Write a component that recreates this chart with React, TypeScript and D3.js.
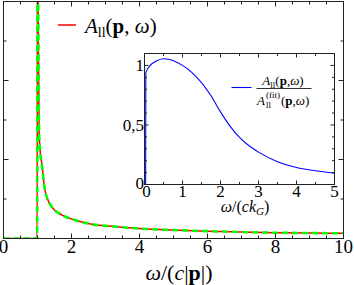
import { curveMonotoneX, line, range, scaleLinear } from 'd3';

// main panel: spectral function vs omega/(c|p|)
const mainOmega = [0, 0.5, 0.99, 1.0, 1.02, 1.046, 1.08, 1.125, 1.22, 1.42, 1.71, 2.1, 2.6, 3.0, 3.58, 4.07, 5, 6, 7, 8, 9, 10];
const spectralA = [0, 0, 0, 4.5, 3.0, 1.37, 1.1, 0.95, 0.61, 0.4, 0.3, 0.234, 0.18, 0.16, 0.14, 0.124, 0.107, 0.093, 0.082, 0.073, 0.069, 0.066];
const spectralFit = [0, 0, 0, 4.5, 3.0, 1.37, 1.1, 0.95, 0.61, 0.4, 0.3, 0.234, 0.18, 0.16, 0.14, 0.124, 0.107, 0.093, 0.082, 0.073, 0.069, 0.066];
const mainXTicks = [0, 2, 4, 6, 8, 10];
const mainYTicks = [1, 2];

// inset: ratio A / A_fit vs omega/(c k_G)
const insetOmega = [0.03, 0.035, 0.15, 0.3, 0.5, 0.75, 1.0, 1.25, 1.5, 1.75, 2.0, 2.25, 2.5, 2.75, 3.0, 3.5, 4.0, 4.5, 5];
const insetRatio = [0, 0.94, 1.0, 1.035, 1.056, 1.042, 1.0, 0.94, 0.855, 0.745, 0.61, 0.49, 0.395, 0.325, 0.272, 0.192, 0.142, 0.115, 0.095];
const insetXTicks = [0, 1, 2, 3, 4, 5];
const insetYTicks = [0, 0.5, 1];
const insetYTickLabels = ['0', '0,5', '1'];

const W = 354;
const H = 285;
const FONT = 'Liberation Serif, Times New Roman, DejaVu Serif, serif';
const AXIS = '#222';

export default function App() {
  const x = scaleLinear().domain([0, 10]).range([3.5, 343.5]);
  const y = scaleLinear().domain([0, 3]).range([238.5, 1.5]);
  const ix = scaleLinear().domain([0, 5]).range([144.5, 334.5]);
  const iy = scaleLinear().domain([0, 1.1]).range([184.5, 53.5]);

  const mainLine = line<number>()
    .x((_, i) => x(mainOmega[i]))
    .y((d) => y(d))
    .curve(curveMonotoneX);
  const insetLine = line<number>()
    .x((_, i) => ix(insetOmega[i]))
    .y((d) => iy(d))
    .curve(curveMonotoneX);

  const mainMinorX = range(0, 10.001, 0.5).filter((t) => !mainXTicks.includes(t));
  const mainMinorY = range(0, 3.001, 0.5).filter((t) => !mainYTicks.includes(t) && t > 0 && t < 3);
  const insetMinorX = range(0, 5.001, 0.5).filter((t) => !insetXTicks.includes(t));
  const insetMinorY = range(0, 1.1, 0.1).filter((t) => !insetYTicks.some((m) => Math.abs(m - t) < 1e-6));

  const [x0, x1] = x.range();
  const [y0, y1] = y.range();
  const [ix0, ix1] = ix.range();
  const [iy0, iy1] = iy.range();

  return (
    <svg
      width={W}
      height={H}
      viewBox={`0 0 ${W} ${H}`}
      style={{ position: 'absolute', left: 0, top: 0, background: '#fff' }}
    >
      <defs>
        <clipPath id="main-clip">
          <rect x={x0} y={y1} width={x1 - x0} height={y0 - y1} />
        </clipPath>
      </defs>

      {/* main curves */}
      <g clipPath="url(#main-clip)" fill="none">
        <path d={mainLine(spectralA) ?? ''} stroke="#ff0000" strokeWidth={1.5} />
        <path d={mainLine(spectralFit) ?? ''} stroke="#00ff00" strokeWidth={2.6} strokeDasharray="6 4" />
      </g>

      {/* main frame + ticks */}
      <rect x={x0} y={y1} width={x1 - x0} height={y0 - y1} fill="none" stroke={AXIS} strokeWidth={1} />
      <g stroke={AXIS} strokeWidth={1}>
        {mainXTicks.map((t) => (
          <g key={`mx${t}`}>
            <line x1={x(t)} x2={x(t)} y1={y0} y2={y0 - 5} />
            <line x1={x(t)} x2={x(t)} y1={y1} y2={y1 + 5} />
          </g>
        ))}
        {mainMinorX.map((t) => (
          <g key={`mmx${t}`}>
            <line x1={x(t)} x2={x(t)} y1={y0} y2={y0 - 3} />
            <line x1={x(t)} x2={x(t)} y1={y1} y2={y1 + 3} />
          </g>
        ))}
        {mainYTicks.map((t) => (
          <g key={`my${t}`}>
            <line x1={x0} x2={x0 + 5} y1={y(t)} y2={y(t)} />
            <line x1={x1} x2={x1 - 5} y1={y(t)} y2={y(t)} />
          </g>
        ))}
        {mainMinorY.map((t) => (
          <g key={`mmy${t}`}>
            <line x1={x0} x2={x0 + 3} y1={y(t)} y2={y(t)} />
            <line x1={x1} x2={x1 - 3} y1={y(t)} y2={y(t)} />
          </g>
        ))}
      </g>
      {mainXTicks.map((t) => (
        <text key={`mxl${t}`} x={x(t)} y={253} fontFamily={FONT} fontSize={19} textAnchor="middle">
          {t}
        </text>
      ))}
      <text x={179} y={280} fontFamily={FONT} fontSize={22} textAnchor="middle">
        <tspan fontStyle="italic">ω</tspan>/(<tspan fontStyle="italic">c</tspan>|<tspan fontWeight="bold">p</tspan>|)
      </text>

      {/* main legend */}
      <line x1={58} x2={76} y1={25} y2={25} stroke="#ff0000" strokeWidth={1.5} />
      <text x={85} y={33} fontFamily={FONT} fontSize={21}>
        <tspan fontStyle="italic">A</tspan>
        <tspan fontSize={14} dy={4}>ll</tspan>
        <tspan dy={-4}>(</tspan>
        <tspan fontWeight="bold">p</tspan>
        <tspan>, </tspan>
        <tspan fontStyle="italic">ω</tspan>
        <tspan>)</tspan>
      </text>

      {/* inset */}
      <rect x={ix0} y={iy1} width={ix1 - ix0} height={iy0 - iy1} fill="#fff" />
      <path d={insetLine(insetRatio) ?? ''} fill="none" stroke="#0000ff" strokeWidth={1.1} />
      <rect x={ix0} y={iy1} width={ix1 - ix0} height={iy0 - iy1} fill="none" stroke={AXIS} strokeWidth={1} />
      <g stroke={AXIS} strokeWidth={1}>
        {insetXTicks.map((t) => (
          <g key={`ix${t}`}>
            <line x1={ix(t)} x2={ix(t)} y1={iy0} y2={iy0 - 4} />
            <line x1={ix(t)} x2={ix(t)} y1={iy1} y2={iy1 + 4} />
          </g>
        ))}
        {insetMinorX.map((t) => (
          <g key={`imx${t}`}>
            <line x1={ix(t)} x2={ix(t)} y1={iy0} y2={iy0 - 2.5} />
            <line x1={ix(t)} x2={ix(t)} y1={iy1} y2={iy1 + 2.5} />
          </g>
        ))}
        {insetYTicks.map((t) => (
          <g key={`iy${t}`}>
            <line x1={ix0} x2={ix0 + 4} y1={iy(t)} y2={iy(t)} />
            <line x1={ix1} x2={ix1 - 4} y1={iy(t)} y2={iy(t)} />
          </g>
        ))}
        {insetMinorY.map((t) => (
          <g key={`imy${t}`}>
            <line x1={ix0} x2={ix0 + 2.5} y1={iy(t)} y2={iy(t)} />
            <line x1={ix1} x2={ix1 - 2.5} y1={iy(t)} y2={iy(t)} />
          </g>
        ))}
      </g>
      {insetXTicks.map((t) => (
        <text key={`ixl${t}`} x={ix(t) + (t === 0 ? 2 : 0)} y={197} fontFamily={FONT} fontSize={17} textAnchor="middle">
          {t}
        </text>
      ))}
      {insetYTicks.map((t, i) => (
        <text key={`iyl${t}`} x={ix0 - 0.5} y={iy(t) + (t === 0 ? 4 : 6)} fontFamily={FONT} fontSize={17} textAnchor="end">
          {insetYTickLabels[i]}
        </text>
      ))}
      <text x={245} y={212} fontFamily={FONT} fontSize={16} textAnchor="middle">
        <tspan fontStyle="italic">ω</tspan>/(<tspan fontStyle="italic">ck</tspan>
        <tspan fontStyle="italic" fontSize={11} dy={3}>G</tspan>
        <tspan dy={-3}>)</tspan>
      </text>

      {/* inset legend */}
      <line x1={231.5} x2={251.5} y1={87.5} y2={87.5} stroke="#0000ff" strokeWidth={1.1} />
      <text x={283} y={85} fontFamily={FONT} fontSize={13} textAnchor="middle">
        <tspan fontStyle="italic">A</tspan>
        <tspan fontSize={9} dy={3}>ll</tspan>
        <tspan dy={-3}>(</tspan>
        <tspan fontWeight="bold">p</tspan>,<tspan fontStyle="italic">ω</tspan>)
      </text>
      <line x1={256.5} x2={311.5} y1={88.5} y2={88.5} stroke="#000" strokeWidth={0.8} />
      <text x={257} y={104.5} fontFamily={FONT} fontSize={13} fontStyle="italic">A</text>
      <text x={266} y={97.5} fontFamily={FONT} fontSize={9}>(fit)</text>
      <text x={266} y={107.5} fontFamily={FONT} fontSize={9}>ll</text>
      <text x={281} y={104.5} fontFamily={FONT} fontSize={13}>
        (<tspan fontWeight="bold">p</tspan>,<tspan fontStyle="italic">ω</tspan>)
      </text>
    </svg>
  );
}
